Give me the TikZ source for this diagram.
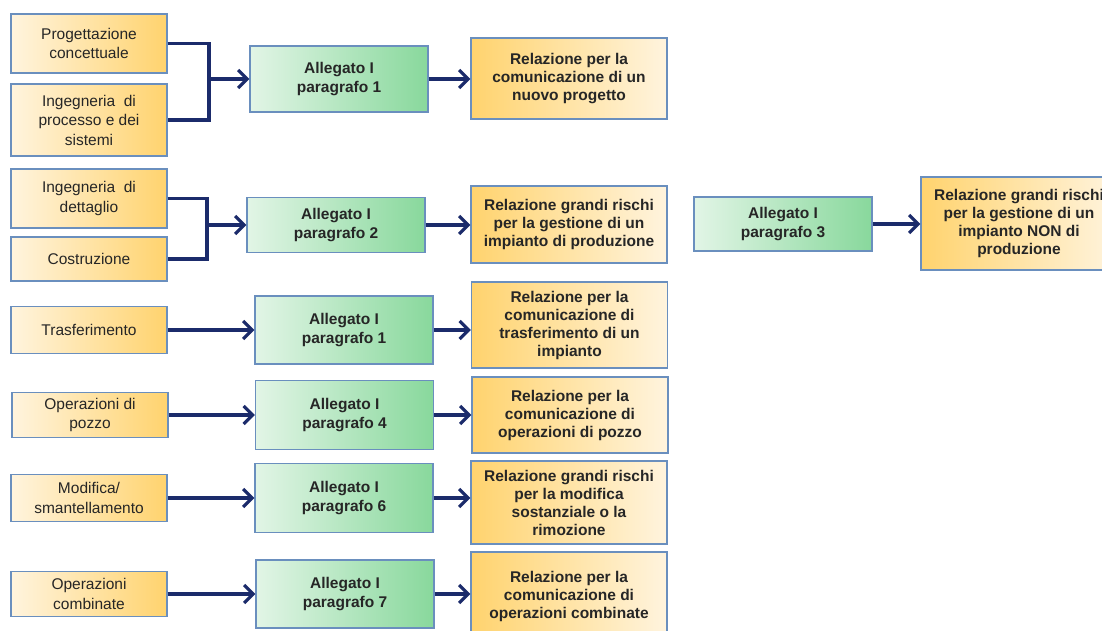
\documentclass[tikz,border=0pt]{standalone}
\usepackage{fontspec}
\setmainfont{Liberation Sans}
\usetikzlibrary{arrows.meta}

\definecolor{cream}{HTML}{FFF4DE}
\definecolor{amber}{HTML}{FFD36E}
\definecolor{mint}{HTML}{E2F5E6}
\definecolor{leaf}{HTML}{88D89C}
\definecolor{boxline}{HTML}{6A8FBE}
\definecolor{navy}{HTML}{1B2B6B}
\definecolor{textgray}{HTML}{262626}

\begin{document}
\begin{tikzpicture}[x=1pt, y=-1pt,
  phase/.style={draw=boxline, line width=1.2pt, left color=cream, right color=amber,
    align=center, inner sep=0pt, minimum width=156pt, text=textgray,
    font=\fontsize{15.5}{19.5}\selectfont},
  annex/.style={draw=boxline, line width=1.2pt, left color=mint, right color=leaf,
    align=center, inner sep=0pt, minimum width=178pt, text=textgray,
    font=\bfseries\fontsize{15.5}{18.5}\selectfont},
  report/.style={draw=boxline, line width=1.2pt, left color=amber, right color=cream,
    align=center, inner sep=0pt, minimum width=196pt, text=textgray,
    font=\bfseries\fontsize{15.5}{18}\selectfont},
  link/.style={navy, line width=3.2pt, -{Straight Barb[length=9pt, width=18pt]}},
  joint/.style={navy, line width=3.2pt}]

% Page
\fill[white] (0,0) rectangle (1102,630);
\useasboundingbox (0,0) rectangle (1102,630);

% Phases
\node[phase, minimum height=59pt] (prog) at (89,43.5) {Progettazione\\concettuale};
\node[phase, minimum height=72pt] (proc) at (89,120) {Ingegneria\ \ di\\processo e dei\\sistemi};
\node[phase, minimum height=59pt] (dett) at (89,198.5) {Ingegneria\ \ di\\dettaglio};
\node[phase, minimum height=44pt] (costr) at (89,259) {Costruzione};
\node[phase, minimum height=47pt] (trasf) at (89,330) {Trasferimento};
\node[phase, minimum height=45pt] (pozzo) at (90,415) {Operazioni di\\pozzo};
\node[phase, minimum height=47pt] (modif) at (89,498) {Modifica/\\smantellamento};
\node[phase, minimum height=45pt] (comb) at (89,594) {Operazioni\\combinate};

% Allegato I
\node[annex, minimum height=66pt] (par1) at (339,79) {Allegato I\\paragrafo 1};
\node[annex, minimum height=55pt] (par2) at (336,225) {Allegato I\\paragrafo 2};
\node[annex, minimum height=54pt] (par3) at (783,224) {Allegato I\\paragrafo 3};
\node[annex, minimum height=68pt] (par1b) at (344,330) {Allegato I\\paragrafo 1};
\node[annex, minimum height=69pt] (par4) at (344.5,415) {Allegato I\\paragrafo 4};
\node[annex, minimum height=69pt] (par6) at (344,498) {Allegato I\\paragrafo 6};
\node[annex, minimum height=68pt] (par7) at (345,594) {Allegato I\\paragrafo 7};

% Relazioni
\node[report, minimum height=81pt] (rel1) at (569,78.5) {Relazione per la\\comunicazione di un\\nuovo progetto};
\node[report, minimum height=77pt] (rel2) at (569,224.5) {Relazione grandi rischi\\per la gestione di un\\impianto di produzione};
\node[report, minimum height=93pt] (rel3) at (1019,223.5) {Relazione grandi rischi\\per la gestione di un\\impianto NON di\\produzione};
\node[report, minimum height=86pt] (rel4) at (569.5,325) {Relazione per la\\comunicazione di\\trasferimento di un\\impianto};
\node[report, minimum height=76pt] (rel5) at (570,415) {Relazione per la\\comunicazione di\\operazioni di pozzo};
\node[report, minimum height=83pt] (rel6) at (569,502.5) {Relazione grandi rischi\\per la modifica\\sostanziale o la\\rimozione};
\node[report, minimum height=88pt] (rel7) at (569,596) {Relazione per la\\comunicazione di\\operazioni combinate};

% Joints
\coordinate (j1) at (209,79);
\coordinate (j2) at (207,225);

% Connectors
\draw[joint] (prog.east) -| (j1) |- (proc.east);
\draw[joint] (dett.east) -| (j2) |- (costr.east);
\draw[link] (j1) -- (par1.west);
\draw[link] (j2) -- (par2.west);
\draw[link] (trasf.east) -- (par1b.west);
\draw[link] (pozzo.east) -- (par4.west);
\draw[link] (modif.east) -- (par6.west);
\draw[link] (comb.east) -- (par7.west);

\draw[link] (par1.east) -- (par1.east -| rel1.west);
\draw[link] (par2.east) -- (par2.east -| rel2.west);
\draw[link] (par3.east) -- (par3.east -| rel3.west);
\draw[link] (par1b.east) -- (par1b.east -| rel4.west);
\draw[link] (par4.east) -- (par4.east -| rel5.west);
\draw[link] (par6.east) -- (par6.east -| rel6.west);
\draw[link] (par7.east) -- (par7.east -| rel7.west);

\end{tikzpicture}
\end{document}
